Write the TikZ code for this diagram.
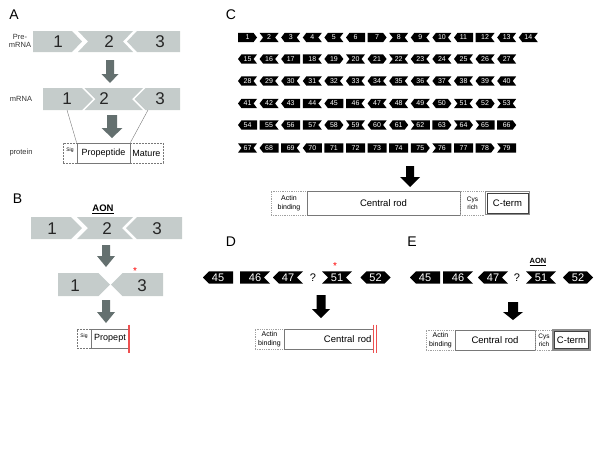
\documentclass[tikz,border=0pt]{standalone}
\usepackage{fontspec}
\setmainfont{Liberation Sans}

\definecolor{exongrey}{RGB}{197,204,203}
\definecolor{arrowgrey}{RGB}{100,112,111}
\definecolor{boxgrey}{RGB}{120,120,120}
\definecolor{cutred}{RGB}{238,80,80}

% exon ends: F = flat, P = pointed, N = notched
\newcommand{\exonRF}{-- (\ew,-\eh) -- (\ew,\eh)}
\newcommand{\exonRP}{-- (\ew-\ed,-\eh) -- (\ew,0) -- (\ew-\ed,\eh)}
\newcommand{\exonRN}{-- (\ew,-\eh) -- (\ew-\ed,0) -- (\ew,\eh)}
\newcommand{\exonLF}{-- (-\ew,\eh) -- (-\ew,-\eh)}
\newcommand{\exonLP}{-- (-\ew+\ed,\eh) -- (-\ew,0) -- (-\ew+\ed,-\eh)}
\newcommand{\exonLN}{-- (-\ew,\eh) -- (-\ew+\ed,0) -- (-\ew,-\eh)}

\begin{document}
\begin{tikzpicture}[x=1pt, y=-1pt,
    panel/.style={font=\fontsize{14}{14}\selectfont},
    rowlabel/.style={font=\fontsize{7.5}{8.5}\selectfont, align=center, text=black!80},
    bignum/.style={font=\fontsize{17}{17}\selectfont, text=black!85},
    exonfill/.style={fill=black},
    exonnum/.style={font=\fontsize{7}{7}\selectfont, text=white, inner sep=0},
    dombox/.style={draw=boxgrey, line width=0.8, inner sep=0, minimum height=20, align=center},
    dotbox/.style={dombox, draw=boxgrey!70, densely dotted},
    dashbox/.style={dombox, dash pattern=on 2pt off 1pt},
    ctermbox/.style={dombox, draw=black!45, line width=1.6},
    aon/.style={font=\bfseries\fontsize{9.5}{9.5}\selectfont},
    star/.style={text=red, font=\fontsize{10}{10}\selectfont, inner sep=0},
    pics/exon/.style n args={3}{code={
        \fill[exonfill] (0,-\eh) \csname exonR#2\endcsname \csname exonL#1\endcsname -- cycle;
        \node[exonnum] (-num) at (0,0) {#3};
    }},
    pics/downarrow/.style n args={5}{code={
        \fill[#5] (-#2,0) -- (#2,0) -- (#2,#1-#4) -- (#3,#1-#4) -- (0,#1)
            -- (-#3,#1-#4) -- (-#2,#1-#4) -- cycle;
    }}
    ]

    \useasboundingbox (0,0) rectangle (600,450);

    % Panel A
    \node[panel] (pA) at (14,15) {A};
    \node[rowlabel] (lpre) at (20,41) {Pre-\\mRNA};
    \node[rowlabel] (lmrna) at (21,99) {mRNA};
    \node[rowlabel] (lprot) at (21,153) {protein};

    \fill[exongrey] (33,31) -- (72,31) -- (82,41.5) -- (72,52) -- (33,52) -- cycle;
    \fill[exongrey] (78,31) -- (133,31) -- (123,41.5) -- (133,52) -- (78,52) -- (88,41.5) -- cycle;
    \fill[exongrey] (137,31) -- (180,31) -- (180,52) -- (137,52) -- (127,41.5) -- cycle;
    \node[bignum] (a1) at (58,42) {1};
    \node[bignum] (a2) at (109,42) {2};
    \node[bignum] (a3) at (160,42) {3};

    \pic at (110,60) {downarrow={23}{4}{8.5}{9}{arrowgrey}};

    \fill[exongrey] (43,88) -- (82,88) -- (93,99) -- (82,110) -- (43,110) -- cycle;
    \fill[exongrey] (84.5,88) -- (143,88) -- (132,99) -- (143,110) -- (84.5,110) -- (95.5,99) -- cycle;
    \fill[exongrey] (145.5,88) -- (180,88) -- (180,110) -- (145.5,110) -- (134.5,99) -- cycle;
    \node[bignum] (m1) at (67,99) {1};
    \node[bignum] (m2) at (104,99) {2};
    \node[bignum] (m3) at (160,99) {3};

    \pic at (112,115) {downarrow={23}{5}{10.5}{10}{arrowgrey}};

    \node[dashbox, minimum width=14] (asig) at (70,153) {};
    \node[font=\fontsize{5}{5}\selectfont] (asigt) at (70,150.5) {Sig};
    \node[dombox, minimum width=53, font=\fontsize{9}{9}\selectfont] (aprop) at (103.5,153) {Propeptide};
    \node[dashbox, minimum width=33, font=\fontsize{9}{9}\selectfont] (amat) at (146.5,153) {Mature};

    \coordinate (mcut1) at (67,110);
    \coordinate (mcut2) at (148,110);
    \draw[boxgrey, line width=0.4] (mcut1) -- (aprop.north west);
    \draw[boxgrey, line width=0.4] (mcut2) -- (aprop.north east);

    % Panel B
    \node[panel] (pB) at (17.5,199) {B};
    \node[aon] (baon) at (103,209) {\underline{AON}};

    \fill[exongrey] (31,217) -- (71,217) -- (82,228) -- (71,239) -- (31,239) -- cycle;
    \fill[exongrey] (77,217) -- (133,217) -- (122,228) -- (133,239) -- (77,239) -- (88,228) -- cycle;
    \fill[exongrey] (137,217) -- (182,217) -- (182,239) -- (137,239) -- (126,228) -- cycle;
    \node[bignum] (b1) at (52,229) {1};
    \node[bignum] (b2) at (107,229) {2};
    \node[bignum] (b3) at (157,229) {3};

    \pic at (106,245) {downarrow={22}{4}{9}{11}{arrowgrey}};

    \fill[exongrey] (58,273) -- (98.5,273) -- (110,284.5) -- (98.5,296) -- (58,296) -- cycle;
    \fill[exongrey] (122.5,273) -- (163,273) -- (163,296) -- (122.5,296) -- (111,284.5) -- cycle;
    \node[bignum] (s1) at (75,285.5) {1};
    \node[bignum] (s3) at (142,285.5) {3};
    \node[star] (bstar) at (135,271) {*};

    \pic at (106,300) {downarrow={23}{4}{9}{11}{arrowgrey}};

    \node[dashbox, minimum width=14, minimum height=19] (bsig) at (84,338.5) {};
    \node[font=\fontsize{5}{5}\selectfont] (bsigt) at (84,336) {Sig};
    \node[dombox, minimum width=38, minimum height=19, font=\fontsize{9}{9}\selectfont] (bprop) at (110,338.5) {Propept};
    \draw[cutred, line width=2] ([yshift=4]bprop.north east) -- ([yshift=-5]bprop.south east);

    % Panel C
    \node[panel] (pC) at (231,14.5) {C};
    \def\ew{9.5}\def\eh{4.6}\def\ed{3.5}
    \foreach \n/\lft/\rgt [count=\i from 0] in {1/F/P, 2/N/N, 3/P/N, 4/P/N, 5/P/N, 6/P/F, 7/F/P,
        8/N/N, 9/P/N, 10/P/N, 11/P/F, 12/F/N, 13/P/N, 14/P/N}
        \pic (ex\n) at ({247.5+21.6*\i},37.5) {exon={\lft}{\rgt}{\n}};
    \foreach \n/\lft/\rgt [count=\i from 0] in {15/P/N, 16/P/N, 17/P/F, 18/F/N, 19/P/P, 20/N/N,
        21/P/P, 22/N/N, 23/P/N, 24/P/N, 25/P/N, 26/P/N, 27/P/N}
        \pic (ex\n) at ({247.5+21.6*\i},59) {exon={\lft}{\rgt}{\n}};
    \foreach \n [count=\i from 0] in {28,...,40}
        \pic (ex\n) at ({247.5+21.6*\i},81) {exon={P}{N}{\n}};
    \foreach \n/\lft/\rgt [count=\i from 0] in {41/P/N, 42/P/N, 43/P/F, 44/F/N, 45/P/F, 46/F/N,
        47/P/N, 48/P/N, 49/P/N, 50/P/P, 51/N/N, 52/P/P, 53/N/N}
        \pic (ex\n) at ({247.5+21.6*\i},103.5) {exon={\lft}{\rgt}{\n}};
    \foreach \n/\lft/\rgt [count=\i from 0] in {54/P/F, 55/F/N, 56/P/F, 57/F/N, 58/P/P, 59/N/N,
        60/P/N, 61/P/P, 62/N/F, 63/F/P, 64/N/P, 65/N/F, 66/F/P}
        \pic (ex\n) at ({247.5+21.6*\i},125) {exon={\lft}{\rgt}{\n}};
    \foreach \n/\lft/\rgt [count=\i from 0] in {67/N/N, 68/P/F, 69/F/N, 70/P/F, 71/F/F, 72/F/F,
        73/F/F, 74/F/F, 75/F/P, 76/N/F, 77/F/F, 78/F/P, 79/N/F}
        \pic (ex\n) at ({247.5+21.6*\i},148) {exon={\lft}{\rgt}{\n}};

    \pic at (410,166) {downarrow={21}{4}{10}{10}{black}};

    \node[dotbox, minimum width=36, minimum height=24, font=\fontsize{7}{8.5}\selectfont] (cact) at (289,203) {Actin\\binding};
    \node[dombox, minimum width=153, minimum height=24, font=\fontsize{9.5}{9.5}\selectfont] (crod) at (383.5,203) {Central rod};
    \node[dotbox, minimum width=25, minimum height=24, font=\fontsize{6.5}{8}\selectfont] (ccys) at (472.5,203) {Cys\\rich};
    \node[ctermbox, minimum width=44, minimum height=23, font=\fontsize{9.5}{9.5}\selectfont] (cterm) at (507.5,203) {C-term};
    \draw[black!75, line width=0.5] ([xshift=2.2,yshift=-2.2]cterm.north west) rectangle ([xshift=-2.2,yshift=2.2]cterm.south east);

    % Panel D
    \node[panel] (pD) at (231,242) {D};
    \begin{scope}
        \def\ew{15}\def\eh{6.2}\def\ed{6}
        \tikzset{exonnum/.append style={font=\fontsize{11}{11}\selectfont}}
        \pic (d45) at (218,277.5) {exon={P}{F}{45}};
        \pic (d46) at (255,277.5) {exon={F}{N}{46}};
        \pic (d47) at (288,277.5) {exon={P}{N}{47}};
        \node[font=\fontsize{11}{11}\selectfont] (dq) at (313,277.5) {?};
        \pic (d51) at (337,277.5) {exon={N}{N}{51}};
        \pic (d52) at (375.5,277.5) {exon={P}{P}{52}};
    \end{scope}
    \node[star] (dstar) at (335,266) {*};

    \pic at (321,295) {downarrow={23}{4.5}{9}{9}{black}};

    \node[dotbox, minimum width=29, font=\fontsize{7}{8.5}\selectfont] (dact) at (269.5,339) {Actin\\binding};
    \node[dombox, minimum width=89, text width=86, align=right, font=\fontsize{9.5}{9.5}\selectfont] (drod) at (328.5,339) {Central rod};
    \draw[cutred, line width=0.7] ([yshift=4]drod.north east) -- ([yshift=-4]drod.south east);
    \draw[cutred, line width=0.7] ([xshift=3,yshift=4]drod.north east) -- ([xshift=3,yshift=-4]drod.south east);

    % Panel E
    \node[panel] (pE) at (412,242) {E};
    \begin{scope}
        \def\ew{15}\def\eh{6.2}\def\ed{6}
        \tikzset{exonnum/.append style={font=\fontsize{11}{11}\selectfont}}
        \pic (e45) at (425,277.5) {exon={P}{F}{45}};
        \pic (e46) at (458,277.5) {exon={F}{N}{46}};
        \pic (e47) at (493,277.5) {exon={P}{N}{47}};
        \node[font=\fontsize{11}{11}\selectfont] (eq) at (517,277.5) {?};
        \pic (e51) at (541,277.5) {exon={N}{N}{51}};
        \pic (e52) at (578,277.5) {exon={P}{P}{52}};
    \end{scope}
    \node[aon, font=\bfseries\fontsize{7.5}{7.5}\selectfont] (eaon) at (538,262) {\underline{AON}};

    \pic at (513,302) {downarrow={18}{5}{10}{8}{black}};

    \node[dotbox, minimum width=29, font=\fontsize{7}{8.5}\selectfont] (eact) at (440.5,340) {Actin\\binding};
    \node[dombox, minimum width=80, font=\fontsize{9.5}{9.5}\selectfont] (erod) at (495,340) {Central rod};
    \node[dotbox, minimum width=18, font=\fontsize{6.5}{8}\selectfont] (ecys) at (544,340) {Cys\\rich};
    \node[ctermbox, minimum width=37, minimum height=20, font=\fontsize{9.5}{9.5}\selectfont] (eterm) at (571.5,340) {C-term};
    \draw[black!75, line width=0.5] ([xshift=2.2,yshift=-2.2]eterm.north west) rectangle ([xshift=-2.2,yshift=2.2]eterm.south east);

\end{tikzpicture}
\end{document}
